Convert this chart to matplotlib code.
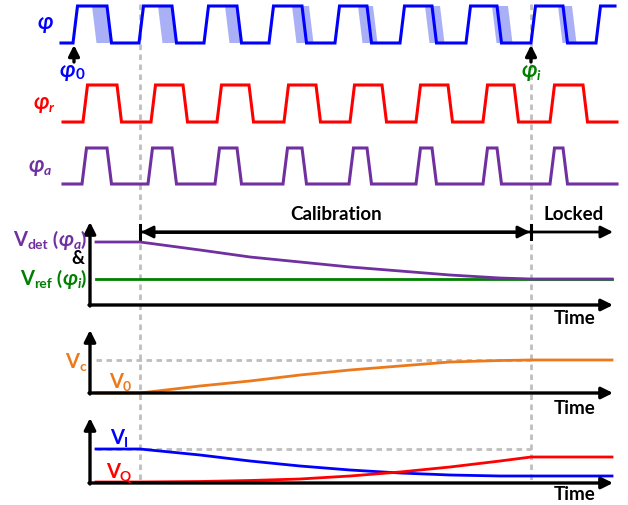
import matplotlib.pyplot as plt
import numpy as np

FAM = ['Lato', 'Noto Sans', 'DejaVu Sans']
plt.rcParams['font.family'] = FAM

BLUE = '#0000ff'
RED = '#ff0000'
PURPLE = '#7030a0'
GREEN = '#008000'
ORANGE = '#ec7a1c'
GRAY = '#bfbfbf'
SHADE = '#aab0f6'

# clock edges (x in px along the time line)
phi_rise = [73, 139, 204, 269, 335, 400, 466, 531, 596]
phi_fall = [107, 172, 237, 302, 367, 432, 497, 563]
shade_left = [92, 158, 225, 292, 358, 425, 492, 558]
shade_right = [107, 172, 237, 309, 373, 440, 508, 572]
r_rise = [83, 151, 217, 284, 350, 416, 483, 550]
r_fall = [117, 183, 249, 316, 382, 448, 514, 583]
a_rise = [82, 148, 215, 283, 349, 416, 483, 550]
a_fall = [107, 172, 237, 302, 367, 432, 497, 563]

# analog traces during calibration
t_start, t_cal, t_lock, t_end = 96, 140, 531, 612
det_x = [140, 170, 200, 250, 300, 350, 400, 450, 500, 531]
det_y = [242, 246, 250, 257, 262, 267, 271, 275, 278, 279]
ref_y = 279
vc_x = [140, 200, 250, 300, 350, 400, 450, 500, 531]
vc_y = [393, 386, 381, 375, 370, 366, 362, 360.5, 360]
vi_x = [140, 200, 250, 300, 350, 400, 450, 500, 531]
vi_y = [449, 455, 461, 466, 470, 473, 475, 476, 476]
vq_x = [140, 200, 250, 300, 350, 400, 450, 500, 531]
vq_y = [482, 481.5, 480.5, 479, 476, 472, 467, 461, 457]

fig = plt.figure(figsize=(6.28, 5.05), dpi=100)
ax = fig.add_axes([0, 0, 1, 1])
ax.set_xlim(0, 628)
ax.set_ylim(505, 0)
ax.axis('off')
R = fig.canvas.get_renderer()


def wave(rises, falls, x0, x1, lo, hi, ramp=4.5):
    xs, ys = [x0], [lo]
    for i, r in enumerate(rises):
        xs += [r, r + ramp]
        ys += [lo, hi]
        if i < len(falls):
            xs += [falls[i], falls[i] + ramp]
            ys += [hi, lo]
    xs.append(x1)
    ys.append(ys[-1])
    return xs, ys


def rich(x, y, parts, color, align='left'):
    objs = []
    cx = 0
    for s, size, style, dy in parts:
        t = ax.text(0, y + dy, s, fontsize=size, style=style, color=color,
                    fontweight='bold', va='baseline', ha='left', zorder=6)
        objs.append((t, cx))
        cx += t.get_window_extent(R).width
    x0 = x - cx if align == 'right' else (x - cx / 2 if align == 'center' else x)
    for t, off in objs:
        t.set_x(x0 + off)


def arrow(x0, y0, x1, y1, lw=2.4, ms=17):
    ax.annotate('', xy=(x1, y1), xytext=(x0, y0),
                arrowprops=dict(arrowstyle='-|>', color='k', lw=lw,
                                mutation_scale=ms, shrinkA=0, shrinkB=0),
                zorder=5)


# dashed markers
for xv in [t_cal, t_lock]:
    ax.plot([xv, xv], [4, 484], color=GRAY, lw=2, ls=(0, (2, 1.6)), zorder=1)

# phi with shaded edge uncertainty
for l, r in zip(shade_left, shade_right):
    ax.fill([l, r, r + 4.5, l + 4.5], [6, 6, 43, 43], color=SHADE, lw=0, zorder=2)
x, y = wave(phi_rise, phi_fall, 61, 615, 43, 6)
ax.plot(x, y, color=BLUE, lw=2.2, zorder=3, solid_joinstyle='miter')
x, y = wave(r_rise, r_fall, 63, 617, 122, 85)
ax.plot(x, y, color=RED, lw=2.2, zorder=3, solid_joinstyle='miter')
x, y = wave(a_rise, a_fall, 63, 617, 184, 148)
ax.plot(x, y, color=PURPLE, lw=2.2, zorder=3, solid_joinstyle='miter')

rich(53, 29, [('φ', 15.5, 'italic', 0)], BLUE, 'right')
rich(54, 109, [('φ', 15.5, 'italic', 0), ('r', 10, 'italic', 3)], RED, 'right')
rich(51, 172, [('φ', 15.5, 'italic', 0), ('a', 10, 'italic', 3)], PURPLE, 'right')

arrow(74, 62, 74, 45, ms=16)
arrow(531, 62, 531, 45, ms=16)
rich(72, 77, [('φ', 15.5, 'italic', 0), ('0', 11, 'normal', 2)], BLUE, 'center')
rich(531, 77, [('φ', 15.5, 'italic', 0), ('i', 10, 'italic', 3)], GREEN, 'center')

# panel 1: detector output vs reference
arrow(90, 306, 90, 222)
arrow(89, 305, 613, 305)
ax.plot([t_start] + det_x + [t_end], [det_y[0]] + det_y + [det_y[-1]],
        color=PURPLE, lw=2, zorder=4)
ax.plot([t_start, t_end], [ref_y, ref_y], color=GREEN, lw=2, zorder=3)
rich(86, 246, [('V', 14.5, 'normal', 0), ('det', 10, 'normal', 3), (' (', 14, 'normal', 0),
               ('φ', 15, 'italic', 0), ('a', 10, 'italic', 3), (')', 14, 'normal', 0)],
     PURPLE, 'right')
ax.text(78, 259, '&', fontsize=13, fontweight='bold', color='k', ha='center', va='center')
rich(86, 285, [('V', 14.5, 'normal', 0), ('ref', 10, 'normal', 3), (' (', 14, 'normal', 0),
               ('φ', 15, 'italic', 0), ('i', 10, 'italic', 3), (')', 14, 'normal', 0)],
     GREEN, 'right')

# calibration / locked span arrows
arrow(531, 232, 141, 232, lw=2, ms=18)
arrow(141, 232, 530, 232, lw=2, ms=18)
ax.plot([t_cal, t_cal], [225, 239], color='k', lw=2.2)
ax.plot([t_lock, t_lock], [225, 239], color='k', lw=2.2)
ax.plot([t_cal + 12, t_lock - 12], [232, 232], color='k', lw=2)
arrow(532, 232, 613, 232, lw=2, ms=18)
ax.text(336, 215, 'Calibration', fontsize=13.5, fontweight='bold', ha='center', va='center')
ax.text(574, 215, 'Locked', fontsize=13.5, fontweight='bold', ha='center', va='center')

# panel 2: control voltage
arrow(90, 394, 90, 330)
arrow(89, 393, 613, 393)
ax.plot([t_start] + vc_x + [t_end], [vc_y[0]] + vc_y + [vc_y[-1]],
        color=ORANGE, lw=2, zorder=4)
ax.plot([t_start, t_lock], [vc_y[-1], vc_y[-1]], color=GRAY, lw=2, ls=(0, (2, 1.6)), zorder=1)
rich(86, 368, [('V', 14.5, 'normal', 0), ('c', 10, 'normal', 3)], ORANGE, 'right')
rich(109, 388, [('V', 14.5, 'normal', 0), ('0', 10, 'normal', 3)], ORANGE, 'left')

# panel 3: I/Q voltages
arrow(90, 484, 90, 418)
arrow(89, 483, 613, 483)
ax.plot([t_start, t_lock], [vi_y[0], vi_y[0]], color=GRAY, lw=2, ls=(0, (2, 1.6)), zorder=1)
ax.plot([t_start] + vi_x + [t_end], [vi_y[0]] + vi_y + [vi_y[-1]],
        color=BLUE, lw=2, zorder=4)
ax.plot([t_start] + vq_x + [t_end], [vq_y[0]] + vq_y + [vq_y[-1]],
        color=RED, lw=2, zorder=4)
rich(110, 444, [('V', 14.5, 'normal', 0), ('I', 10, 'normal', 3)], BLUE, 'left')
rich(106, 478, [('V', 14.5, 'normal', 0), ('Q', 10, 'normal', 3)], RED, 'left')

for yt in [318, 408, 495]:
    ax.text(575, yt, 'Time', fontsize=13.5, fontweight='bold', ha='center', va='center')

fig.savefig('out.png', dpi=100)
